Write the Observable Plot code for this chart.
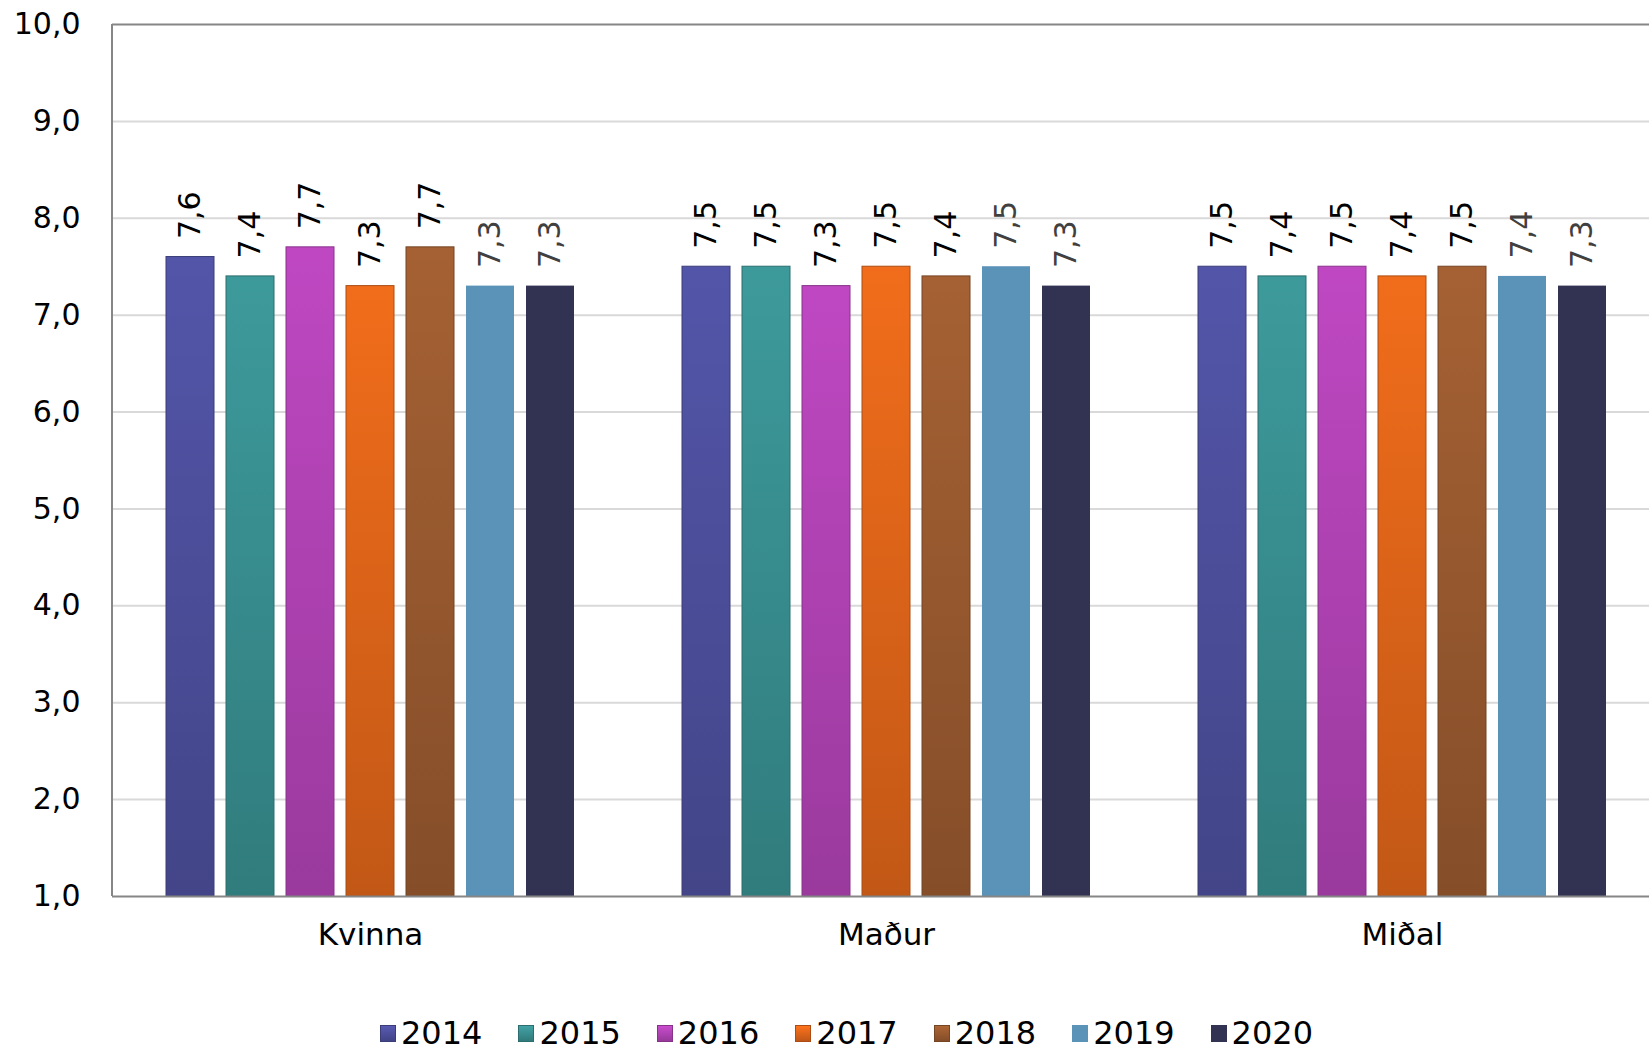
<!DOCTYPE html>
<html><head><meta charset="utf-8">
<script src="https://cdn.jsdelivr.net/npm/d3@7"></script>
<script src="https://cdn.jsdelivr.net/npm/@observablehq/plot@0.6"></script>
<style>
body{margin:0;background:#fff;font-family:"DejaVu Sans",Verdana,sans-serif;overflow:hidden;}
#chart svg{display:block;}
#legend{display:flex;justify-content:center;align-items:center;height:50px;padding-left:44px;padding-top:16px;box-sizing:border-box;font-size:32px;color:#000;}
.item{display:flex;align-items:center;margin:0 18px;}
.sw{width:16px;height:17px;margin-right:5px;box-sizing:border-box;}
</style></head><body><div id="chart"></div><div id="legend"></div>
<script>
const categories = ["Kvinna", "Maður", "Miðal"];
const years = ["2014", "2015", "2016", "2017", "2018", "2019", "2020"];
const colors = ["#4F51A0", "#3A9293", "#B544B8", "#E4671A", "#9C5C30", "#5B93B8", "#323352"];
const values2014 = [7.6, 7.5, 7.5];
const values2015 = [7.4, 7.5, 7.4];
const values2016 = [7.7, 7.3, 7.5];
const values2017 = [7.3, 7.5, 7.4];
const values2018 = [7.7, 7.4, 7.5];
const values2019 = [7.3, 7.5, 7.4];
const values2020 = [7.3, 7.3, 7.3];
const series = [values2014, values2015, values2016, values2017, values2018, values2019, values2020];
const yTicks = [1, 2, 3, 4, 5, 6, 7, 8, 9, 10];
const bevelYears = ["2014", "2015", "2016", "2017", "2018"];
const grayLabelYears = ["2019", "2020"];

const data = years.flatMap((yr, i) => categories.map((c, j) => ({cat: c, year: yr, value: series[i][j]})));
const fmt = v => v.toFixed(1).replace(".", ",");

const textOpts = {fx: "cat", x: "year", y: "value", text: d => fmt(d.value), rotate: -90, textAnchor: "start", lineAnchor: "middle", dy: -18, fontSize: 30};

const plot = Plot.plot({
  width: 1649, height: 1000,
  marginLeft: 112, marginRight: -11, marginTop: 24, marginBottom: 104,
  style: {fontFamily: '"DejaVu Sans", Verdana, sans-serif', fontSize: "30px", color: "#000", background: "#fff", overflow: "hidden"},
  fx: {domain: categories, padding: 0, label: null, tickSize: 0, tickPadding: 26, fontSize: 31},
  x: {domain: years, paddingInner: 0.2, paddingOuter: 0.85, axis: null},
  y: {domain: [1, 10], ticks: yTicks, tickFormat: fmt, tickSize: 0, tickPadding: 32, label: null},
  color: {domain: years, range: colors},
  marks: [
    Plot.ruleY(yTicks.slice(1, -1), {stroke: "#d9d9d9", strokeWidth: 2}),
    Plot.barY(data, {fx: "cat", x: "year", y1: 1, y2: "value", fill: "year"}),
    Plot.ruleY([1, 10], {stroke: "#868686", strokeWidth: 2}),
    Plot.text(data.filter(d => !grayLabelYears.includes(d.year)), {...textOpts, fill: "#000"}),
    Plot.text(data.filter(d => grayLabelYears.includes(d.year)), {...textOpts, fill: "#404040"})
  ]
});
document.getElementById("chart").appendChild(plot);

const svg = d3.select(plot);
svg.selectAll("g[aria-label='fx-axis tick label'] text, g[aria-label='fx-axis'] text").attr("font-size", 31);

// left axis line
const ys = plot.scale("y");
svg.append("line")
  .attr("x1", 112).attr("x2", 112)
  .attr("y1", ys.apply(10)).attr("y2", ys.apply(1))
  .attr("stroke", "#868686").attr("stroke-width", 2);

// bevel-like gradients for bars
const defs = svg.insert("defs", ":first-child");
colors.forEach((c, i) => {
  if (!bevelYears.includes(years[i])) return;
  const g = defs.append("linearGradient").attr("id", "grad" + i).attr("x1", 0).attr("y1", 0).attr("x2", 0).attr("y2", 1);
  g.append("stop").attr("offset", "0%").attr("stop-color", d3.color(c).brighter(0.15));
  g.append("stop").attr("offset", "100%").attr("stop-color", d3.color(c).darker(0.45));
});
svg.selectAll("g[aria-label='bar'] rect").each(function() {
  const f = this.getAttribute("fill");
  const i = colors.findIndex(c => d3.color(c).formatHex() === d3.color(f).formatHex());
  if (i >= 0 && bevelYears.includes(years[i])) {
    this.setAttribute("fill", `url(#grad${i})`);
    this.setAttribute("stroke", d3.color(colors[i]).darker(0.8));
    this.setAttribute("stroke-width", 1);
  }
});

// legend
const legend = d3.select("#legend");
years.forEach((yr, i) => {
  const it = legend.append("div").attr("class", "item");
  const bevel = bevelYears.includes(yr);
  it.append("div").attr("class", "sw")
    .style("background", bevel ? `linear-gradient(${d3.color(colors[i]).brighter(0.3)}, ${d3.color(colors[i]).darker(0.5)})` : colors[i])
    .style("border", bevel ? `1px solid ${d3.color(colors[i]).darker(0.8)}` : "none");
  it.append("span").text(yr);
});
</script>
</body></html>
